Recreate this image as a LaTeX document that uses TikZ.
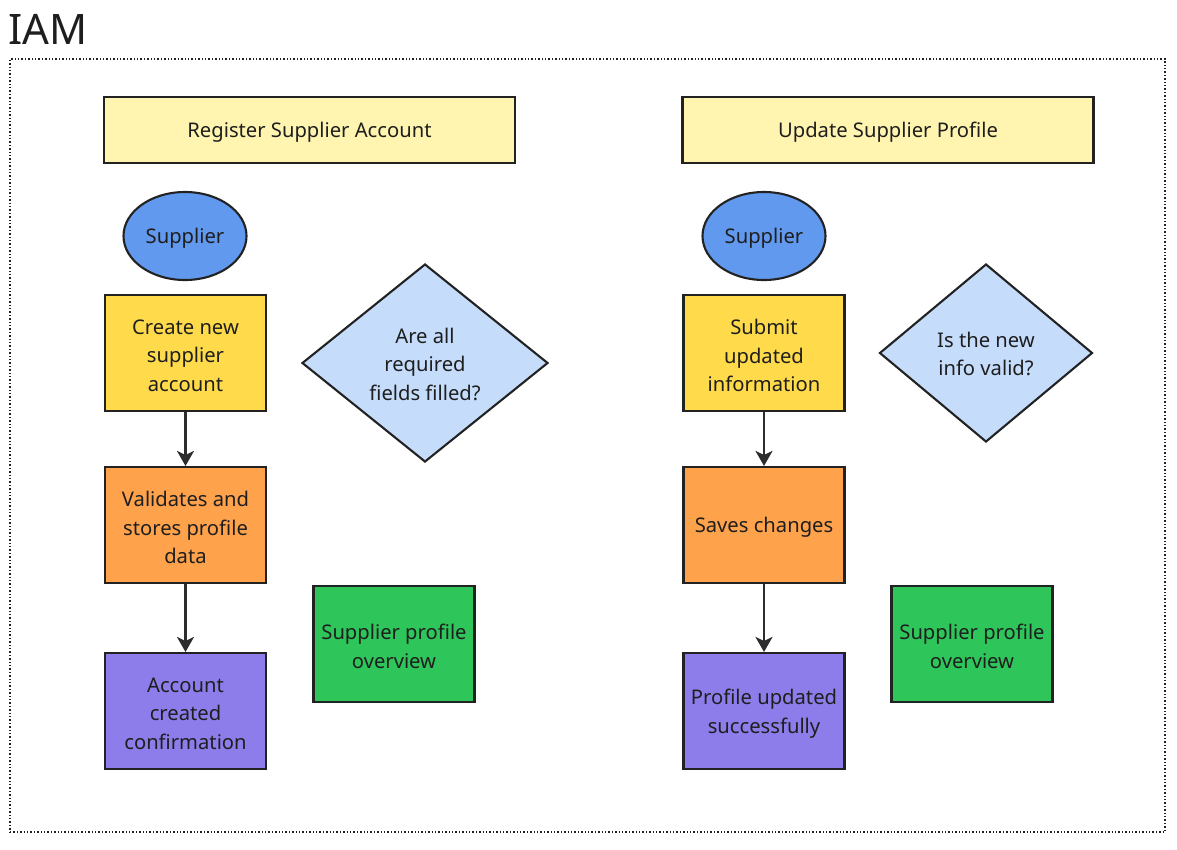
\documentclass[tikz,border=0pt]{standalone}
\usepackage{fontspec}
\setmainfont{Noto Sans}
\usetikzlibrary{shapes.geometric,arrows.meta}
\definecolor{hdr}{HTML}{FFF5B1}
\definecolor{ell}{HTML}{6199EE}
\definecolor{yel}{HTML}{FFDB4B}
\definecolor{ora}{HTML}{FFA24C}
\definecolor{pur}{HTML}{8C7DEB}
\definecolor{grn}{HTML}{2EC55B}
\definecolor{dia}{HTML}{C6DCFB}
\definecolor{ink}{HTML}{222222}
\definecolor{txt}{HTML}{1E1E1E}
\tikzset{
  lbl/.style={text=txt, font=\fontsize{20.2}{28.5}\selectfont, align=center, inner sep=0pt},
  say/.style={label={[lbl,yshift=-2.5pt]center:{#1}}},
  base/.style={draw=ink, line width=2.1pt, inner sep=0pt},
  hdrbox/.style={base, fill=hdr, minimum width=411pt, minimum height=66pt},
  actor/.style={base, ellipse, fill=ell, minimum width=123pt, minimum height=88pt},
  stepbox/.style={base, minimum width=161pt, minimum height=116pt},
  decis/.style={base, diamond, fill=dia, aspect=1.24},
  flow/.style={draw=ink!95, line width=2.2pt, -{Stealth[length=15pt,width=17pt,inset=4pt]}},
}
\begin{document}
\begin{tikzpicture}[x=1pt,y=-1pt]
\useasboundingbox (0,0) rectangle (1177,849);
\node[anchor=base west, font=\fontsize{42}{44}\selectfont, text=txt, inner sep=0pt] (title) at (8,44) {IAM};
\node[draw=ink, line width=1.4pt, dotted, minimum width=1155pt, minimum height=773pt, inner sep=0pt] (frame) at (587.5,445.5) {};

% left column
\node[hdrbox, say={Register Supplier Account}] (h1) at (309.5,130) {};
\node[actor, say={Supplier}] (s1) at (185,236) {};
\node[stepbox, fill=yel, say={Create new\\supplier\\account}] (c1) at (185.5,353) {};
\node[decis, minimum width=246pt, minimum height=198pt] (d1) at (425,363) {};
\node[lbl] (d1t) at (425,364) {Are all\\required\\fields filled?};
\node[stepbox, fill=ora, say={Validates and\\stores profile\\data}] (v1) at (185.5,525) {};
\node[stepbox, fill=pur, say={Account\\created\\confirmation}] (a1) at (185.5,711) {};
\node[stepbox, fill=grn, say={Supplier profile\\overview}] (g1) at (394,644) {};

% right column
\node[hdrbox, say={Update Supplier Profile}] (h2) at (888,130) {};
\node[actor, say={Supplier}] (s2) at (764,236) {};
\node[stepbox, fill=yel, say={Submit\\updated\\information}] (c2) at (764,353) {};
\node[decis, minimum width=213pt, minimum height=178pt] (d2) at (986,353) {};
\node[lbl] (d2t) at (986,354) {Is the new\\info valid?};
\node[stepbox, fill=ora, say={Saves changes}] (v2) at (764,525) {};
\node[stepbox, fill=pur, say={Profile updated\\successfully}] (a2) at (764,711) {};
\node[stepbox, fill=grn, say={Supplier profile\\overview}] (g2) at (972,644) {};

\draw[flow] (c1) -- (v1);
\draw[flow] (v1) -- (a1);
\draw[flow] (c2) -- (v2);
\draw[flow] (v2) -- (a2);
\end{tikzpicture}
\end{document}
